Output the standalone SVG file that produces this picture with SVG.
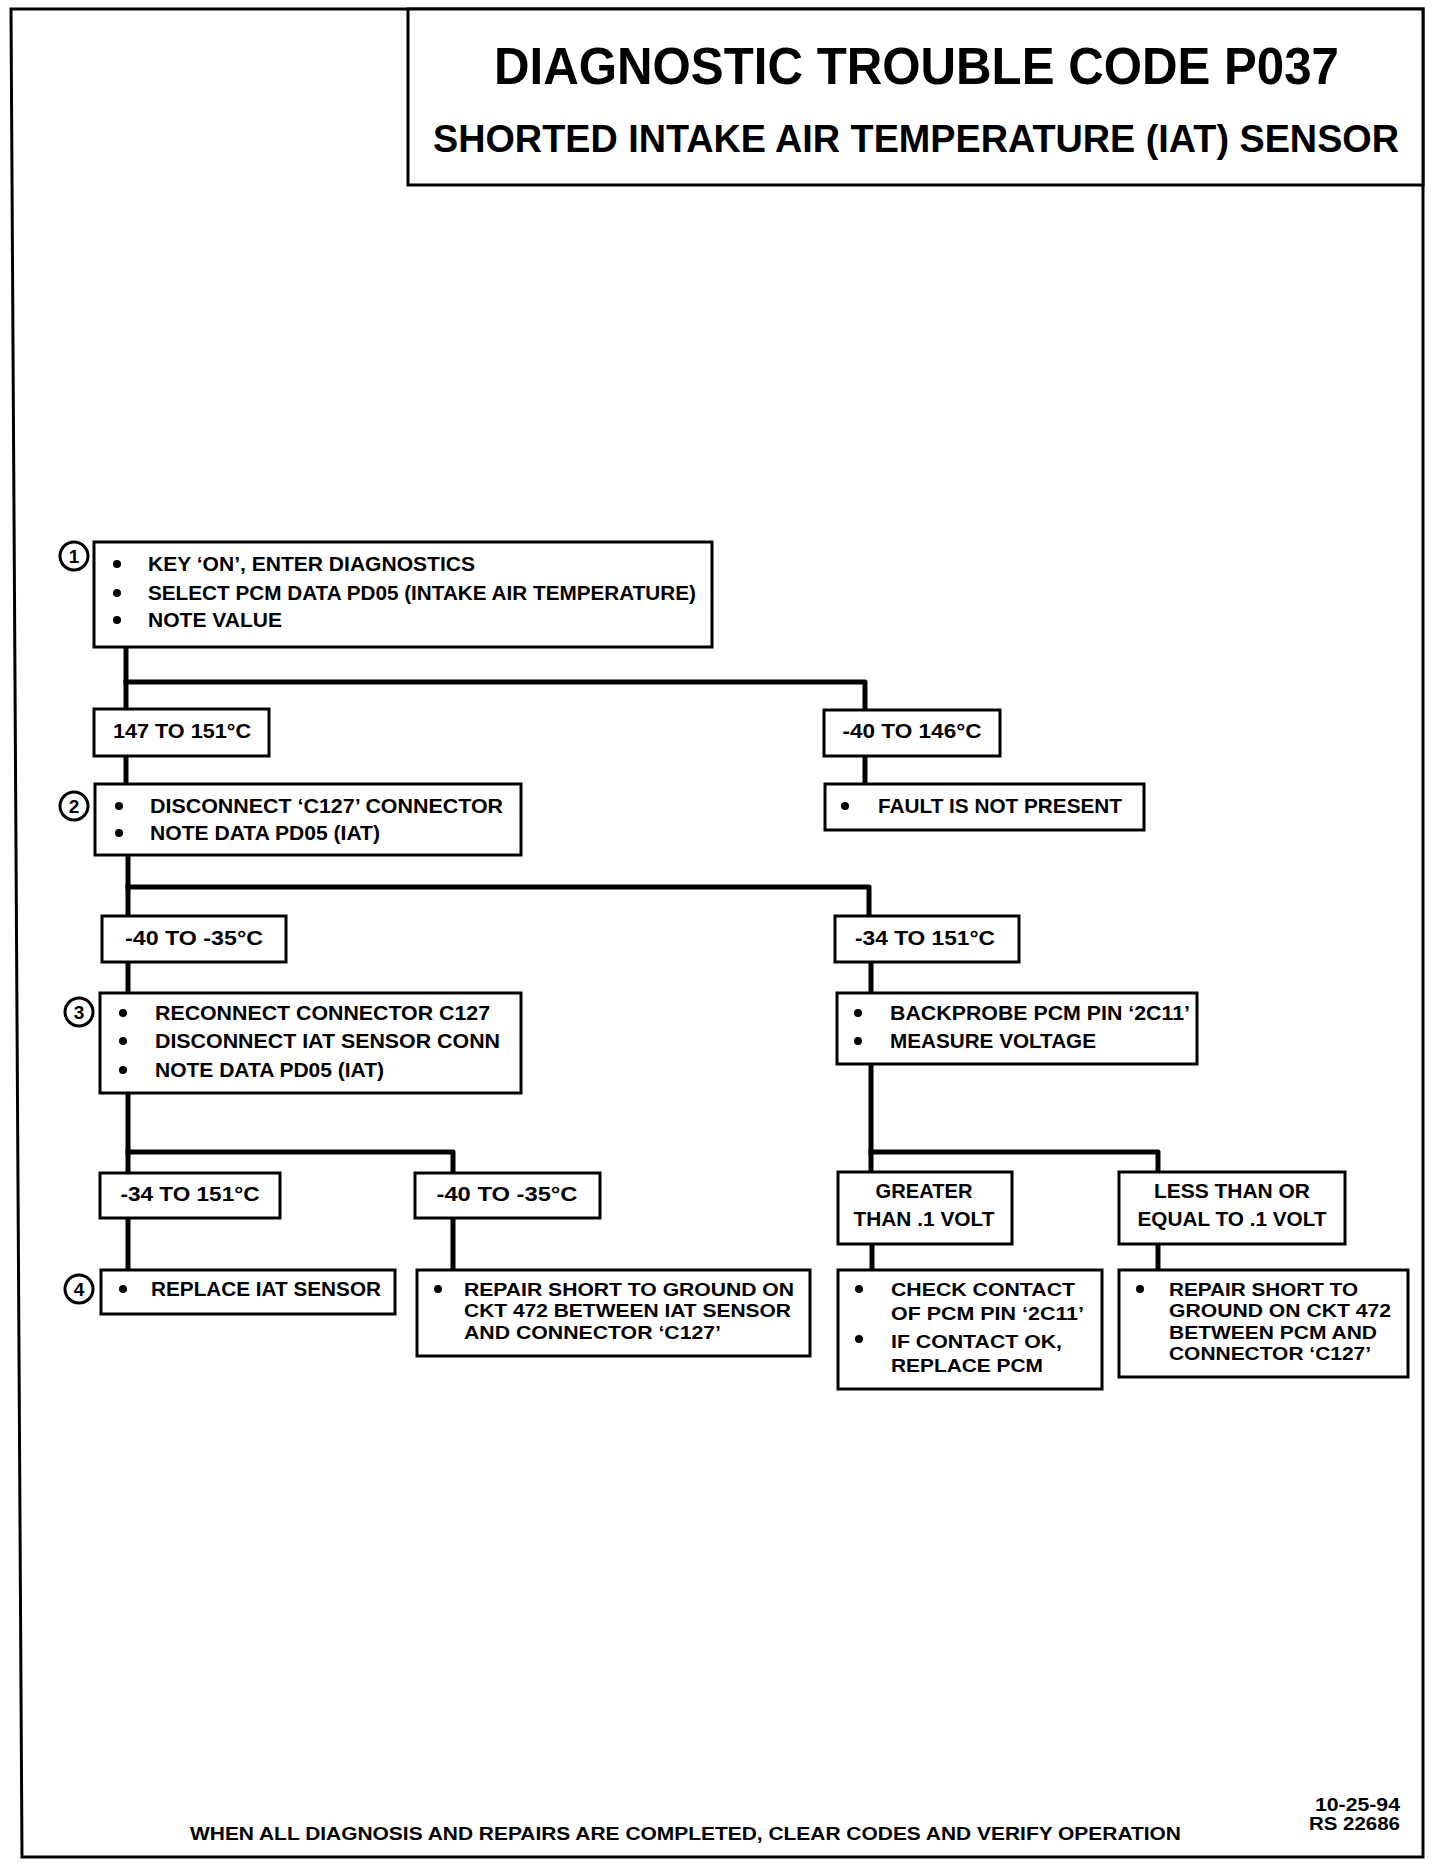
<svg xmlns="http://www.w3.org/2000/svg" width="1440" height="1866" viewBox="0 0 1440 1866">
<style>
.t{font-family:"Liberation Sans",Arial,sans-serif;font-weight:bold;font-size:20px;fill:#000}
.s{font-size:19px}
.c{text-anchor:middle}
.box{fill:#fff;stroke:#000;stroke-width:3}
.conn{fill:none;stroke:#000;stroke-width:5;stroke-linejoin:round;stroke-linecap:square}
.num{fill:#fff;stroke:#000;stroke-width:3}
.nt{font-family:"Liberation Sans",Arial,sans-serif;font-weight:bold;font-size:19px;text-anchor:middle}
</style>
<rect width="1440" height="1866" fill="#fff"/>
<g id="frame">
<path d="M11,9 L1423,9 L1423,1857 L22,1857 Z" fill="none" stroke="#000" stroke-width="3"/>
</g>
<g id="title">
<rect x="408" y="9" width="1015" height="176" fill="#fff" stroke="#000" stroke-width="3"/>
<text class="t" x="494" y="84" style="font-size:52px" textLength="845" lengthAdjust="spacingAndGlyphs">DIAGNOSTIC TROUBLE CODE P037</text>
<text class="t" x="433" y="152" style="font-size:39px" textLength="966" lengthAdjust="spacingAndGlyphs">SHORTED INTAKE AIR TEMPERATURE (IAT) SENSOR</text>
</g>
<g id="connectors">
<path class="conn" d="M126,649 V708"/>
<path class="conn" d="M126,682 H865 V708"/>
<path class="conn" d="M126,758 V782"/>
<path class="conn" d="M865,758 V782"/>
<path class="conn" d="M128,857 V914"/>
<path class="conn" d="M128,887 H869 V914"/>
<path class="conn" d="M128,964 V991"/>
<path class="conn" d="M871,964 V991"/>
<path class="conn" d="M128,1095 V1171"/>
<path class="conn" d="M128,1152 H453 V1171"/>
<path class="conn" d="M871,1066 V1170"/>
<path class="conn" d="M871,1152 H1158 V1170"/>
<path class="conn" d="M128,1220 V1268"/>
<path class="conn" d="M453,1220 V1268"/>
<path class="conn" d="M872,1246 V1268"/>
<path class="conn" d="M1158,1246 V1268"/>
</g>
<g id="step1">
<circle class="num" cx="74" cy="556" r="14"/>
<text class="nt" x="74" y="563">1</text>
<rect class="box" x="94" y="542" width="618" height="105"/>
<circle cx="117" cy="564" r="4"/><circle cx="117" cy="593" r="4"/><circle cx="117" cy="620" r="4"/>
<text class="t" x="148" y="571" textLength="327" lengthAdjust="spacingAndGlyphs">KEY ‘ON’, ENTER DIAGNOSTICS</text>
<text class="t" x="148" y="600" textLength="548" lengthAdjust="spacingAndGlyphs">SELECT PCM DATA PD05 (INTAKE AIR TEMPERATURE)</text>
<text class="t" x="148" y="627" textLength="134" lengthAdjust="spacingAndGlyphs">NOTE VALUE</text>
</g>
<g id="r147">
<rect class="box" x="94" y="709" width="175" height="47"/>
<text class="t c" x="182" y="738" textLength="138" lengthAdjust="spacingAndGlyphs">147 TO 151°C</text>
</g>
<g id="r40_146">
<rect class="box" x="824" y="710" width="176" height="46"/>
<text class="t c" x="912" y="738" textLength="139" lengthAdjust="spacingAndGlyphs">-40 TO 146°C</text>
</g>
<g id="step2">
<circle class="num" cx="74" cy="806" r="14"/>
<text class="nt" x="74" y="813">2</text>
<rect class="box" x="95" y="784" width="426" height="71"/>
<circle cx="119" cy="806" r="4"/><circle cx="119" cy="833" r="4"/>
<text class="t" x="150" y="813" textLength="353" lengthAdjust="spacingAndGlyphs">DISCONNECT ‘C127’ CONNECTOR</text>
<text class="t" x="150" y="840" textLength="230" lengthAdjust="spacingAndGlyphs">NOTE DATA PD05 (IAT)</text>
</g>
<g id="fault">
<rect class="box" x="825" y="784" width="319" height="46"/>
<circle cx="845" cy="806" r="4"/>
<text class="t" x="878" y="813" textLength="244" lengthAdjust="spacingAndGlyphs">FAULT IS NOT PRESENT</text>
</g>
<g id="r40_35a">
<rect class="box" x="102" y="916" width="184" height="46"/>
<text class="t c" x="194" y="945" textLength="138" lengthAdjust="spacingAndGlyphs">-40 TO -35°C</text>
</g>
<g id="r34_151a">
<rect class="box" x="835" y="916" width="184" height="46"/>
<text class="t c" x="925" y="945" textLength="140" lengthAdjust="spacingAndGlyphs">-34 TO 151°C</text>
</g>
<g id="step3">
<circle class="num" cx="79" cy="1012" r="14"/>
<text class="nt" x="79" y="1019">3</text>
<rect class="box" x="100" y="993" width="421" height="100"/>
<circle cx="123" cy="1013" r="4"/><circle cx="123" cy="1041" r="4"/><circle cx="123" cy="1070" r="4"/>
<text class="t" x="155" y="1020" textLength="335" lengthAdjust="spacingAndGlyphs">RECONNECT CONNECTOR C127</text>
<text class="t" x="155" y="1048" textLength="345" lengthAdjust="spacingAndGlyphs">DISCONNECT IAT SENSOR CONN</text>
<text class="t" x="155" y="1077" textLength="229" lengthAdjust="spacingAndGlyphs">NOTE DATA PD05 (IAT)</text>
</g>
<g id="backprobe">
<rect class="box" x="837" y="993" width="360" height="71"/>
<circle cx="858" cy="1013" r="4"/><circle cx="858" cy="1041" r="4"/>
<text class="t" x="890" y="1020" textLength="300" lengthAdjust="spacingAndGlyphs">BACKPROBE PCM PIN ‘2C11’</text>
<text class="t" x="890" y="1048" textLength="206" lengthAdjust="spacingAndGlyphs">MEASURE VOLTAGE</text>
</g>
<g id="r34_151b">
<rect class="box" x="100" y="1173" width="180" height="45"/>
<text class="t c" x="190" y="1201" textLength="139" lengthAdjust="spacingAndGlyphs">-34 TO 151°C</text>
</g>
<g id="r40_35b">
<rect class="box" x="415" y="1173" width="185" height="45"/>
<text class="t c" x="507" y="1201" textLength="141" lengthAdjust="spacingAndGlyphs">-40 TO -35°C</text>
</g>
<g id="greater">
<rect class="box" x="838" y="1172" width="174" height="72"/>
<text class="t c" x="924" y="1198" textLength="97" lengthAdjust="spacingAndGlyphs">GREATER</text>
<text class="t c" x="924" y="1226" textLength="141" lengthAdjust="spacingAndGlyphs">THAN .1 VOLT</text>
</g>
<g id="lessequal">
<rect class="box" x="1119" y="1172" width="226" height="72"/>
<text class="t c" x="1232" y="1198" textLength="156" lengthAdjust="spacingAndGlyphs">LESS THAN OR</text>
<text class="t c" x="1232" y="1226" textLength="189" lengthAdjust="spacingAndGlyphs">EQUAL TO .1 VOLT</text>
</g>
<g id="step4">
<circle class="num" cx="79" cy="1289" r="14"/>
<text class="nt" x="79" y="1296">4</text>
<rect class="box" x="101" y="1270" width="294" height="44"/>
<circle cx="123" cy="1289" r="4"/>
<text class="t" x="151" y="1296" textLength="230" lengthAdjust="spacingAndGlyphs">REPLACE IAT SENSOR</text>
</g>
<g id="repair_iat">
<rect class="box" x="417" y="1270" width="393" height="86"/>
<circle cx="438" cy="1289" r="4"/>
<text class="t s" x="464" y="1296" textLength="330" lengthAdjust="spacingAndGlyphs">REPAIR SHORT TO GROUND ON</text>
<text class="t s" x="464" y="1317" textLength="327" lengthAdjust="spacingAndGlyphs">CKT 472 BETWEEN IAT SENSOR</text>
<text class="t s" x="464" y="1339" textLength="257" lengthAdjust="spacingAndGlyphs">AND CONNECTOR ‘C127’</text>
</g>
<g id="check_contact">
<rect class="box" x="838" y="1270" width="264" height="119"/>
<circle cx="859" cy="1289" r="4"/><circle cx="859" cy="1339" r="4"/>
<text class="t s" x="891" y="1296" textLength="184" lengthAdjust="spacingAndGlyphs">CHECK CONTACT</text>
<text class="t s" x="891" y="1320" textLength="193" lengthAdjust="spacingAndGlyphs">OF PCM PIN ‘2C11’</text>
<text class="t s" x="891" y="1348" textLength="171" lengthAdjust="spacingAndGlyphs">IF CONTACT OK,</text>
<text class="t s" x="891" y="1372" textLength="152" lengthAdjust="spacingAndGlyphs">REPLACE PCM</text>
</g>
<g id="repair_pcm">
<rect class="box" x="1119" y="1270" width="289" height="107"/>
<circle cx="1140" cy="1289" r="4"/>
<text class="t s" x="1169" y="1296" textLength="189" lengthAdjust="spacingAndGlyphs">REPAIR SHORT TO</text>
<text class="t s" x="1169" y="1317" textLength="222" lengthAdjust="spacingAndGlyphs">GROUND ON CKT 472</text>
<text class="t s" x="1169" y="1339" textLength="208" lengthAdjust="spacingAndGlyphs">BETWEEN PCM AND</text>
<text class="t s" x="1169" y="1360" textLength="202" lengthAdjust="spacingAndGlyphs">CONNECTOR ‘C127’</text>
</g>
<g id="footer">
<text class="t s" x="190" y="1840" textLength="991" lengthAdjust="spacingAndGlyphs">WHEN ALL DIAGNOSIS AND REPAIRS ARE COMPLETED, CLEAR CODES AND VERIFY OPERATION</text>
<text class="t" x="1400" y="1811" style="font-size:18px;text-anchor:end" textLength="85" lengthAdjust="spacingAndGlyphs">10-25-94</text>
<text class="t" x="1400" y="1830" style="font-size:18px;text-anchor:end" textLength="91" lengthAdjust="spacingAndGlyphs">RS 22686</text>
</g>
</svg>
